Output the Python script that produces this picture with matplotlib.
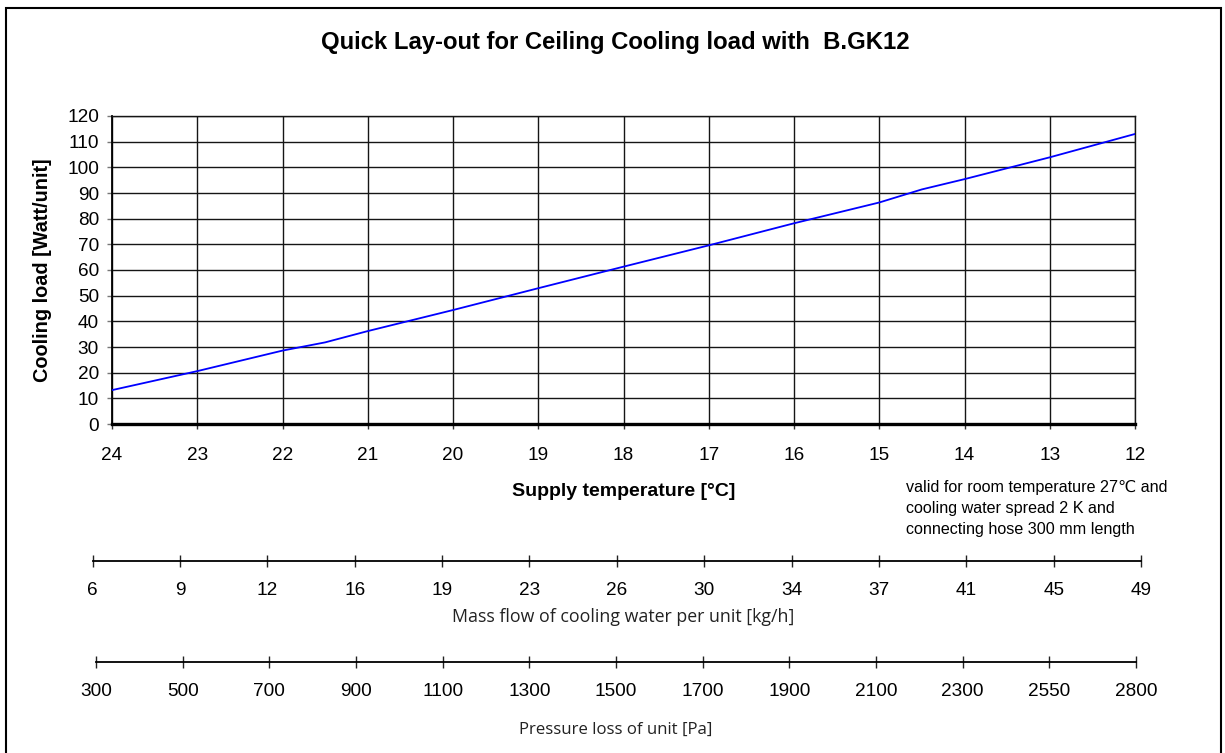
import matplotlib
matplotlib.use("Agg")
import matplotlib.pyplot as plt
from matplotlib.patches import Rectangle

# ---- data ----
supply_temp = [24, 23, 22, 21.5, 21, 20, 19, 18, 17, 16, 15, 14.5, 14, 13, 12]
cooling_load = [13.2, 20.6, 28.6, 31.8, 36.2, 44.4, 52.9, 61.3, 69.6, 78.2, 86.3, 91.4, 95.4, 103.9, 113.0]
temp_ticks = [24, 23, 22, 21, 20, 19, 18, 17, 16, 15, 14, 13, 12]
load_ticks = list(range(0, 121, 10))
mass_flow_labels = [6, 9, 12, 16, 19, 23, 26, 30, 34, 37, 41, 45, 49]
pressure_labels = [300, 500, 700, 900, 1100, 1300, 1500, 1700, 1900, 2100, 2300, 2550, 2800]

W, H = 1225, 753
fig = plt.figure(figsize=(W / 100, H / 100), dpi=100)
plt.rcParams['font.family'] = ['Liberation Sans', 'DejaVu Sans']

def fx(px):
    return px / W

def fy(py):
    return 1 - py / H

def pts(px):
    return px * 72 / 100

TICK_FS = 13.7

# border
fig.add_artist(Rectangle((fx(6), -0.02), fx(1221) - fx(6), fy(8) + 0.02,
                         transform=fig.transFigure, fill=False, lw=1.5, ec='black'))

# ---- main axes ----
L, R, T, B = 112, 1135, 116, 424
ax = fig.add_axes([fx(L), fy(B), fx(R) - fx(L), fy(T) - fy(B)])
ax.plot(supply_temp, cooling_load, color='#0000ff', lw=1.3, zorder=3)
ax.set_xlim(24, 12)
ax.set_ylim(0, 120)
ax.set_xticks(temp_ticks)
ax.set_xticklabels([str(t) for t in temp_ticks])
ax.set_yticks(load_ticks)
ax.set_yticklabels([str(v) for v in load_ticks])
ax.grid(True, color='#151515', lw=1.0)
for s in ['top', 'right']:
    ax.spines[s].set_color('#151515')
    ax.spines[s].set_linewidth(1.0)
ax.spines['left'].set_linewidth(1.3)
ax.spines['left'].set_color('black')
ax.spines['bottom'].set_linewidth(2.4)
ax.spines['bottom'].set_color('black')
ax.tick_params(axis='x', direction='out', length=pts(5), width=1.0, color='#333333',
               pad=pts(18), labelsize=TICK_FS)
ax.tick_params(axis='y', direction='out', length=pts(5), width=1.0, color='#777777',
               pad=pts(8), labelsize=TICK_FS)

fig.text(fx(43), fy(270), 'Cooling load [Watt/unit]', fontsize=14.3, fontweight='bold',
         ha='center', va='center', rotation=90)

fig.text(fx(624), fy(491), 'Supply temperature [°C]', fontsize=14, fontweight='bold',
         ha='center', va='center')
fig.text(fx(906), fy(480),
         'valid for room temperature 27℃ and\ncooling water spread 2 K and\nconnecting hose 300 mm length',
         fontsize=11.6, ha='left', va='top', linespacing=1.48,
         family=['Liberation Sans', 'DejaVu Sans'])

fig.text(fx(615), fy(49.5), 'Quick Lay-out for Ceiling Cooling load with  B.GK12',
         fontsize=17.2, fontweight='bold', ha='center', va='baseline')

# ---- secondary scale axes ----
def scale_axis(x0, x1, y, labels, label_text, label_x, label_y, label_fs):
    a = fig.add_axes([fx(x0), fy(y), fx(x1) - fx(x0), 0.0001])
    a.set_xlim(0, len(labels) - 1)
    a.set_ylim(0, 1)
    for s in ['top', 'right', 'left']:
        a.spines[s].set_visible(False)
    a.spines['bottom'].set_linewidth(1.3)
    a.spines['bottom'].set_color('black')
    a.set_yticks([])
    a.set_xticks(range(len(labels)))
    a.set_xticklabels([str(v) for v in labels])
    a.tick_params(axis='x', direction='inout', length=pts(12), width=1.0,
                  color='#222222', pad=pts(15), labelsize=TICK_FS)
    a.patch.set_visible(False)
    fig.text(fx(label_x), fy(label_y), label_text, fontsize=label_fs, ha='center', va='center',
             family=['Open Sans', 'DejaVu Sans'], color='#222222')
    return a

scale_axis(92.5, 1141, 561, mass_flow_labels,
           'Mass flow of cooling water per unit [kg/h]', 623, 617, 12.8)
scale_axis(96, 1136, 662, pressure_labels,
           'Pressure loss of unit [Pa]', 616, 730, 12.1)

fig.savefig('out.png', dpi=100)
